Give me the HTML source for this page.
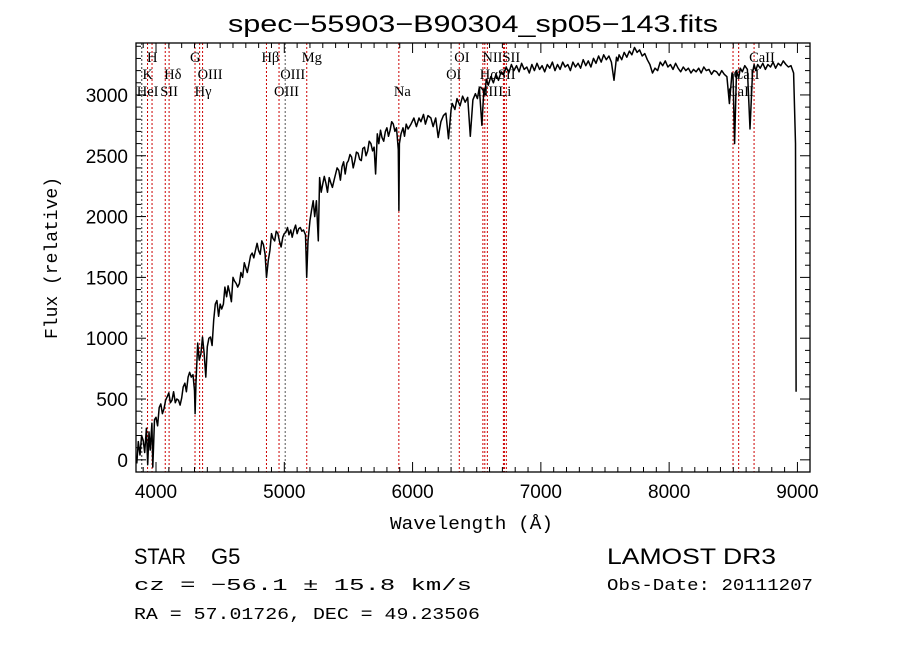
<!DOCTYPE html>
<html><head><meta charset="utf-8"><style>
body{margin:0;background:#fff;}
svg{display:block;font-family:"Liberation Sans",sans-serif;}
</style></head><body>
<svg id="chart" width="900" height="649" viewBox="0 0 900 649" xmlns="http://www.w3.org/2000/svg">
<rect x="0" y="0" width="900" height="649" fill="#fff"/>
<text x="228" y="32" font-size="24" textLength="490" lengthAdjust="spacingAndGlyphs">spec−55903−B90304_sp05−143.fits</text>
<g id="lines"></g>
<g id="axes"></g>
<path id="spec" fill="none" stroke="#000" stroke-width="1.5" stroke-linejoin="round"/>
<text x="390" y="529" font-size="18" textLength="163" lengthAdjust="spacingAndGlyphs" font-family="Liberation Mono, monospace">Wavelength (Å)</text>
<text transform="translate(57,258) rotate(-90)" font-size="18" text-anchor="middle" font-family="Liberation Mono, monospace">Flux (relative)</text>
<text x="134" y="564" font-size="22" textLength="52" lengthAdjust="spacingAndGlyphs">STAR</text>
<text x="211" y="564" font-size="22">G5</text>
<text x="134" y="590" font-size="17" textLength="338" lengthAdjust="spacingAndGlyphs" font-family="Liberation Mono, monospace">cz = −56.1 ± 15.8 km/s</text>
<text x="134" y="619" font-size="17" textLength="346" lengthAdjust="spacingAndGlyphs" font-family="Liberation Mono, monospace">RA =  57.01726, DEC =  49.23506</text>
<text x="607" y="564" font-size="22" textLength="169" lengthAdjust="spacingAndGlyphs">LAMOST DR3</text>
<text x="607" y="590" font-size="17" textLength="206" lengthAdjust="spacingAndGlyphs" font-family="Liberation Mono, monospace">Obs-Date: 20111207</text>
</svg>
<script>
const wl=[3850,3862,3875,3888,3900,3912,3925,3935,3945,3955,3968,3975,3988,4000,4012,4025,4037,4050,4062,4075,4088,4100,4112,4125,4137,4150,4162,4175,4188,4200,4212,4225,4237,4250,4262,4275,4288,4300,4305,4312,4325,4337,4350,4362,4375,4388,4400,4412,4425,4437,4450,4462,4475,4488,4500,4512,4525,4537,4550,4562,4575,4588,4600,4612,4625,4637,4650,4662,4675,4688,4700,4712,4725,4737,4750,4762,4775,4788,4800,4812,4825,4837,4850,4861,4875,4888,4900,4912,4925,4937,4950,4962,4975,4988,5000,5012,5025,5037,5050,5062,5075,5088,5100,5112,5125,5137,5150,5165,5175,5185,5200,5212,5225,5237,5250,5265,5275,5288,5300,5312,5325,5337,5350,5362,5375,5388,5400,5412,5425,5437,5450,5462,5475,5488,5500,5512,5525,5537,5550,5562,5575,5588,5600,5612,5625,5637,5650,5662,5675,5688,5700,5712,5725,5737,5750,5762,5775,5788,5800,5812,5825,5837,5850,5862,5875,5889,5893,5897,5910,5925,5937,5950,5965,5988,6010,6030,6050,6065,6085,6100,6120,6143,6160,6180,6200,6221,6240,6260,6280,6300,6310,6330,6346,6370,
6390,6410,6430,6450,6470,6490,6505,6520,6540,6556,6563,6575,6590,6610,6630,6650,6670,6690,6710,6730,6750,6770,6790,6810,6830,6850,6870,6890,6910,6930,6950,6970,6990,7010,7030,7050,7070,7090,7110,7130,7150,7170,7190,7210,7230,7250,7270,7290,7310,7330,7350,7370,7390,7410,7430,7450,7470,7490,7510,7530,7550,7570,7590,7600,7610,7630,7650,7670,7690,7710,7730,7750,7770,7790,7810,7830,7850,7870,7890,7910,7930,7950,7970,7990,8010,8030,8050,8070,8090,8110,8130,8150,8170,8190,8210,8230,8250,8270,8290,8310,8330,8350,8370,8390,8410,8430,8450,8470,8490,8498,8510,8525,8542,8555,8570,8590,8610,8630,8650,8662,8675,8690,8710,8730,8750,8770,8790,8810,8830,8850,8870,8890,8910,8930,8950,8970,8985,8990,8995,9000];
const flux=[-30,150,40,200,160,60,260,-40,230,80,300,-60,330,350,280,430,460,380,420,490,520,550,470,490,560,470,500,490,450,510,600,630,560,680,720,680,700,570,380,640,960,820,870,1010,880,680,930,1000,1010,940,1150,1280,1310,1180,1280,1240,1280,1420,1340,1430,1370,1300,1500,1470,1450,1420,1450,1540,1500,1620,1580,1540,1610,1680,1700,1660,1720,1780,1720,1690,1800,1770,1690,1500,1640,1720,1860,1820,1800,1880,1860,1800,1750,1830,1860,1870,1910,1850,1890,1830,1890,1930,1860,1900,1910,1880,1890,1850,1500,1800,1970,2050,2130,2000,2130,1800,2320,2200,2270,2330,2270,2200,2320,2280,2240,2300,2350,2400,2380,2300,2410,2450,2350,2440,2460,2510,2490,2400,2460,2530,2520,2470,2460,2560,2570,2500,2540,2620,2600,2540,2570,2350,2680,2600,2710,2650,2620,2700,2730,2660,2710,2780,2760,2700,2730,2550,2050,2600,2680,2730,2660,2760,2720,2760,2810,2740,2810,2780,2840,2760,2830,2810,2740,2810,2650,2780,2830,2850,2640,2880,2930,2880,
2970,2910,2990,2940,2980,2660,2960,3010,2970,3060,2750,3050,3000,3130,3080,3150,3100,3170,3120,3190,3170,3230,3180,3250,3200,3240,3190,3260,3210,3230,3180,3250,3200,3260,3210,3240,3190,3250,3220,3270,3200,3250,3210,3270,3230,3250,3200,3270,3230,3260,3220,3290,3240,3280,3230,3300,3260,3320,3270,3330,3290,3320,3270,3120,3310,3280,3330,3290,3350,3310,3360,3330,3390,3350,3370,3320,3340,3290,3250,3180,3220,3200,3270,3240,3280,3230,3250,3210,3260,3220,3190,3230,3200,3220,3180,3210,3190,3220,3180,3230,3200,3210,3170,3200,3190,3160,3200,3170,3150,2930,3180,3170,2600,3200,3140,3220,3190,3240,3210,2720,3180,3250,3200,3250,3220,3260,3210,3250,3230,3270,3220,3260,3240,3280,3250,3230,3240,3180,2600,560];
const lineWl=[3889,3934,3969,4072,4102,4304,4340,4363,4861,4959,5007,5175,5893,6300,6364,6548,6563,6583,6708,6716,6731,8498,8542,8662];
const lineColors=["#333","#c00","#c00","#c00","#c00","#c00","#c00","#c00","#c00","#c00","#555","#c00","#c00","#555","#c00","#c00","#c00","#c00","#c00","#c00","#c00","#c00","#c00","#c00"];
const labelText=["H","G","Hβ","Mg","OI","NIISII","CaII","K","Hδ","OIII","OIII","OI","HαSII","CaII","HeI","SII","Hγ","OIII","Na","NII","Li","CaII"];
const labelWl=[3969,4304,4861,5175,6364,6583,8662,3934,4102,4363,5007,6300,6563,8542,3889,4072,4340,4959,5893,6548,6708,8498];
const labelRow=[0,0,0,0,0,0,0,1,1,1,1,1,1,1,2,2,2,2,2,2,2,2];
const xTicks=[4000,5000,6000,7000,8000,9000];
const yTicks=[0,500,1000,1500,2000,2500,3000];

const L=136,R=810,T=43,B=472;
const X0=3844,X1=9098,Y0=-100,Y1=3427;
const xs=w=>L+(w-X0)/(X1-X0)*(R-L);
const ys=f=>B-(f-Y0)/(Y1-Y0)*(B-T);
const NS="http://www.w3.org/2000/svg";
function mk(tag,attrs,parent){const e=document.createElementNS(NS,tag);for(const k in attrs)e.setAttribute(k,attrs[k]);parent.appendChild(e);return e;}

const gl=document.getElementById('lines');
lineWl.forEach((w,i)=>{
  const l=mk('line',{x1:xs(w),x2:xs(w),y1:T,y2:B,stroke:lineColors[i],'stroke-width':1,'stroke-dasharray':'2,2'},gl);
  
  
});
labelText.forEach((t,i)=>{
  const tx=mk('text',{x:xs(labelWl[i])-5,y:62+labelRow[i]*17,'font-size':14.5,'font-family':'Liberation Serif, serif'},gl);
  tx.textContent=t;
  
  
});

const ga=document.getElementById('axes');
const frame=mk('rect',{x:L,y:T,width:R-L,height:B-T,fill:'none',stroke:'#000','stroke-width':1.3},ga);


for(let w=3900;w<=9000;w+=100){
  const maj=w%1000===0,len=maj?10:5,x=xs(w);
  mk('line',{x1:x,x2:x,y1:B,y2:B-len,stroke:'#000'},ga);
  mk('line',{x1:x,x2:x,y1:T,y2:T+len,stroke:'#000'},ga);
}
xTicks.forEach(v=>{
  const t=mk('text',{x:xs(v),y:B+26,'font-size':19,'text-anchor':'middle'},ga);
  t.textContent=v;
  
  
});
for(let f=-100;f<=3400;f+=100){
  const maj=f%500===0,len=maj?10:5,y=ys(f);
  mk('line',{x1:L,x2:L+len,y1:y,y2:y,stroke:'#000'},ga);
  mk('line',{x1:R,x2:R-len,y1:y,y2:y,stroke:'#000'},ga);
}
yTicks.forEach(v=>{
  const t=mk('text',{x:L-8,y:ys(v)+7,'font-size':19,'text-anchor':'end'},ga);
  t.textContent=v;
  
  
});

let d='';
wl.forEach((w,i)=>{d+=(i?'L':'M')+xs(w).toFixed(1)+','+ys(flux[i]).toFixed(1);});
document.getElementById('spec').setAttribute('d',d);
</script>
</body></html>
